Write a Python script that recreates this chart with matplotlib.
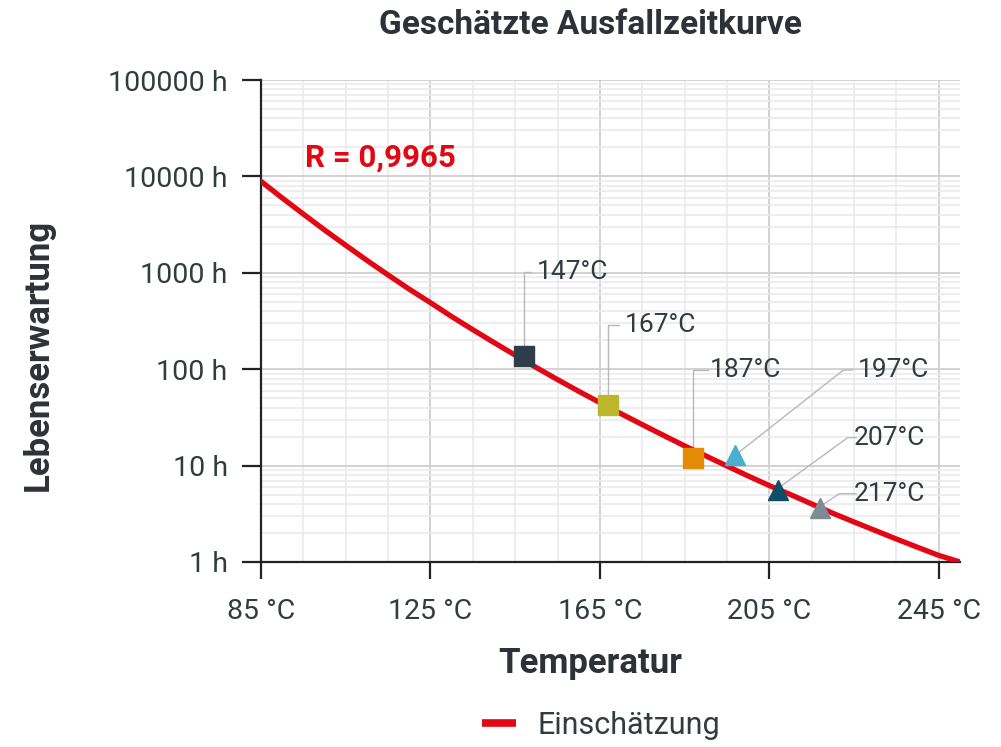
import numpy as np
import matplotlib.pyplot as plt
from matplotlib.ticker import FixedLocator, LogLocator, NullFormatter

plt.rcParams['font.family'] = ['Roboto', 'DejaVu Sans']

# estimated failure-time curve
curve_temp = [85, 90, 95, 100, 105, 110, 115, 120, 125, 130, 135, 140, 145, 150, 155, 160, 165,
              170, 175, 180, 185, 190, 195, 200, 205, 210, 215, 220, 225, 230, 235, 240, 245, 250]
curve_hours = [8900, 5980, 4070, 2780, 1930, 1346, 950, 676, 490, 352, 257, 189, 140, 104, 78, 59, 45,
               34.5, 26.6, 20.6, 16, 12.6, 9.9, 7.8, 6.2, 5.0, 4.0, 3.2, 2.6, 2.12, 1.73, 1.42, 1.17, 1.0]

# measured points
pt_temp = [147, 167, 187, 197, 207, 217]
pt_hours = [137, 42.5, 12, 12.9, 5.6, 3.6]
pt_labels = ['147°C', '167°C', '187°C', '197°C', '207°C', '217°C']
pt_markers = ['s', 's', 's', '^', '^', '^']
pt_colors = ['#2e3d47', '#bdb52a', '#e38b05', '#4aaed0', '#0e4e69', '#7f8b92']

xticks = [85, 125, 165, 205, 245]
xtick_labels = ['85 °C', '125 °C', '165 °C', '205 °C', '245 °C']
yticks = [1, 10, 100, 1000, 10000, 100000]
ytick_labels = ['1 h', '10 h', '100 h', '1000 h', '10000 h', '100000 h']

fig = plt.figure(figsize=(10.01, 7.47), dpi=100)
ax = fig.add_axes([0.2607, 0.2477, 0.959 - 0.2607, 0.8929 - 0.2477])

red = '#e30613'
dark = '#2d3238'
txt = '#333a40'
ax.plot(curve_temp, curve_hours, color=red, lw=3.8, solid_capstyle='round',
        label='Einschätzung', zorder=3)

for t, h, m, c in zip(pt_temp, pt_hours, pt_markers, pt_colors):
    ax.plot(t, h, marker=m, ms=14.5, color=c, ls='none', zorder=4)

ax.set_yscale('log')
ax.set_xlim(85, 250)
ax.set_ylim(1, 100000)

ax.set_xticks(xticks)
ax.set_xticklabels(xtick_labels)
ax.xaxis.set_minor_locator(FixedLocator(np.arange(95, 250, 10)))
ax.set_yticks(yticks)
ax.set_yticklabels(ytick_labels)
ax.yaxis.set_minor_locator(LogLocator(base=10, subs=np.arange(2, 10)))
ax.yaxis.set_minor_formatter(NullFormatter())

ax.tick_params(axis='y', which='major', length=14, width=1.6, color='#222222',
               labelsize=20.5, labelcolor=txt, pad=10)
ax.tick_params(axis='x', which='major', length=12, width=1.6, color='#222222',
               labelsize=20.5, labelcolor=txt, pad=14)
ax.tick_params(which='minor', length=0)

ax.grid(True, which='major', color='#d2d2d2', lw=1.4, zorder=0)
ax.grid(True, which='minor', color='#ebebeb', lw=1.2, zorder=0)
ax.set_axisbelow(True)

for s in ['top', 'right']:
    ax.spines[s].set_visible(False)
for s in ['left', 'bottom']:
    ax.spines[s].set_color('#222222')
    ax.spines[s].set_linewidth(1.6)

# leader lines and labels
lead = '#b8b8b8'
def label(text, pts, tx, ty):
    xs = [p[0] for p in pts]
    ys = [p[1] for p in pts]
    ax.plot(xs, ys, color=lead, lw=1.0, zorder=2)
    ax.text(tx, ty, text, fontsize=19, color=txt, va='center', ha='left')

label('147°C', [(147, 137), (147, 1020), (148.7, 1020)], 150.0, 1020)
label('167°C', [(167, 42.5), (167, 290), (169.5, 290)], 171.0, 290)
label('187°C', [(187, 12), (187, 98), (190.5, 98)], 191.0, 98)
label('197°C', [(197.6, 13.5), (222.5, 98), (224.5, 98)], 226.0, 98)
label('207°C', [(207.5, 6.0), (223.5, 19.5), (225.5, 19.5)], 225.0, 19.5)
label('217°C', [(217.5, 3.9), (221.5, 5.1), (225.5, 5.1)], 225.0, 5.1)

ax.text(95.5, 11000, 'R = 0,9965', color=red, fontsize=22.5, fontweight='bold',
        va='bottom', ha='left')

fig.text(590 / 1001, 1 - 25 / 747, 'Geschätzte Ausfallzeitkurve', fontsize=24,
         fontweight='bold', color=dark, ha='center', va='center')
fig.text(590 / 1001, 1 - 663 / 747, 'Temperatur', fontsize=25,
         fontweight='bold', color=dark, ha='center', va='center')
fig.text(38 / 1001, 1 - 355 / 747, 'Lebenserwartung', fontsize=25, rotation=90,
         fontweight='bold', color=dark, ha='center', va='center')

leg = fig.legend(loc='center', bbox_to_anchor=(601 / 1001, 1 - 725 / 747), frameon=False,
                 fontsize=22, handlelength=1.1, handletextpad=0.7, labelcolor=txt)
for h in leg.get_lines():
    h.set_linewidth(5.5)
    h.set_solid_capstyle('butt')

fig.savefig('out.png', dpi=100)
